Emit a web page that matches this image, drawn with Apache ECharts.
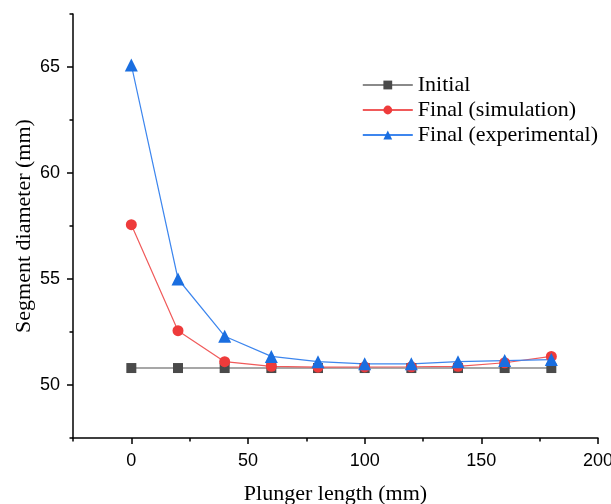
<!DOCTYPE html>
<html><head><meta charset="utf-8">
<script src="https://cdn.jsdelivr.net/npm/echarts@6/dist/echarts.min.js"></script>
<style>html,body{margin:0;padding:0;background:#fff}#c{width:611px;height:504px}</style>
</head><body><div id="c"></div>
<script>
var xValues = [0, 20, 40, 60, 80, 100, 120, 140, 160, 180];
var initial = [50.8, 50.8, 50.8, 50.8, 50.8, 50.8, 50.8, 50.8, 50.8, 50.8];
var simulation = [57.56, 52.56, 51.1, 50.88, 50.84, 50.85, 50.86, 50.88, 51.05, 51.35];
var experimental = [65.1, 55.0, 52.3, 51.35, 51.1, 51.0, 51.0, 51.1, 51.15, 51.2];
var xMajorTicks = [0, 50, 100, 150, 200];
var xMinorTicks = [-25, 25, 75, 125, 175];
var yMajorTicks = [50, 55, 60, 65];
var yMinorTicks = [47.5, 52.5, 57.5, 62.5, 67.5];
var seriesNames = ['Initial', 'Final (simulation)', 'Final (experimental)'];

function pairs(v){ return xValues.map(function(x,i){ return [x, v[i]]; }); }
var chart = echarts.init(document.getElementById('c'));
var sans = 'Liberation Sans, Arial, sans-serif';
var serif = 'Liberation Serif, Times New Roman, serif';
chart.setOption({
  animation: false,
  grid: {left: 73, right: 13, top: 14, bottom: 66, containLabel: false, outerBoundsMode: 'none'},
  legend: {
    right: 8, top: 69, orient: 'vertical', itemWidth: 50, itemHeight: 11, itemGap: 3,
    textStyle: {fontFamily: serif, fontSize: 22, color: '#000'},
    data: seriesNames
  },
  xAxis: [{
    type: 'value', min: -25, max: 200,
    name: 'Plunger length (mm)', nameLocation: 'middle', nameGap: 45, nameMoveOverlap: false,
    nameTextStyle: {fontFamily: serif, fontSize: 22, color: '#000'},
    axisLine: {show: true, onZero: false, lineStyle: {color: '#000', width: 1.5}},
    axisTick: {show: true, length: 6, customValues: xMajorTicks, lineStyle: {color: '#000', width: 1.5}},
    axisLabel: {customValues: xMajorTicks, fontFamily: sans, fontSize: 18, color: '#000', margin: 14},
    splitLine: {show: false}
  }, {
    type: 'value', min: -25, max: 200, position: 'bottom',
    axisLine: {show: false, onZero: false},
    axisTick: {show: true, length: 3.5, customValues: xMinorTicks, lineStyle: {color: '#000', width: 1.5}},
    axisLabel: {show: false},
    splitLine: {show: false}
  }],
  yAxis: [{
    type: 'value', min: 47.5, max: 67.5,
    name: 'Segment diameter (mm)', nameLocation: 'middle', nameGap: 38, nameMoveOverlap: false,
    nameTextStyle: {fontFamily: serif, fontSize: 22, color: '#000'},
    axisLine: {show: true, onZero: false, lineStyle: {color: '#000', width: 1.5}},
    axisTick: {show: true, length: 6, customValues: yMajorTicks, lineStyle: {color: '#000', width: 1.5}},
    axisLabel: {customValues: yMajorTicks, fontFamily: sans, fontSize: 18, color: '#000', margin: 13},
    splitLine: {show: false}
  }, {
    type: 'value', min: 47.5, max: 67.5, position: 'left',
    axisLine: {show: false, onZero: false},
    axisTick: {show: true, length: 3.5, customValues: yMinorTicks, lineStyle: {color: '#000', width: 1.5}},
    axisLabel: {show: false},
    splitLine: {show: false}
  }],
  series: [{
    name: seriesNames[0], type: 'line', data: pairs(initial),
    symbol: 'rect', symbolSize: 10,
    itemStyle: {color: '#4a4a4a'}, lineStyle: {color: '#8a8a8a', width: 1.5}
  }, {
    name: seriesNames[1], type: 'line', data: pairs(simulation),
    symbol: 'circle', symbolSize: 11,
    itemStyle: {color: '#ee3b3b'}, lineStyle: {color: '#f05a5a', width: 1.2}
  }, {
    name: seriesNames[2], type: 'line', data: pairs(experimental),
    symbol: 'triangle', symbolSize: 13,
    itemStyle: {color: '#1a6ee0'}, lineStyle: {color: '#3d86ee', width: 1.2}
  }]
});
</script></body></html>
